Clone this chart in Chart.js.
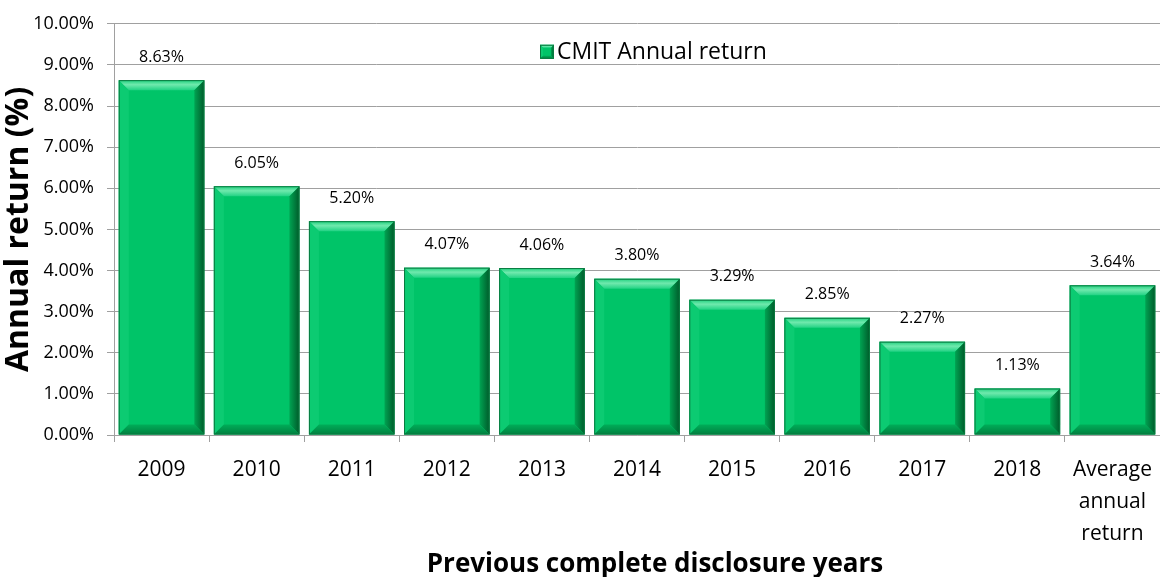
<!DOCTYPE html>
<html>
<head>
<meta charset="utf-8">
<script src="https://cdn.jsdelivr.net/npm/chart.js@4.4.1/dist/chart.umd.min.js"></script>
<style>
  html, body { margin: 0; padding: 0; background: #fff; }
  #wrap { width: 1160px; height: 577px; }
</style>
</head>
<body>
<div id="wrap"><canvas id="c"></canvas></div>
<script>
// datos
const categorias = ['2009', '2010', '2011', '2012', '2013', '2014', '2015', '2016', '2017', '2018', ['Average', 'annual', 'return']];
const rentabilidad = [8.63, 6.05, 5.20, 4.07, 4.06, 3.80, 3.29, 2.85, 2.27, 1.13, 3.64];
const serieNombre = 'CMIT Annual return';
const tituloX = 'Previous complete disclosure years';
const yTicks = [0, 1, 2, 3, 4, 5, 6, 7, 8, 9, 10];

const FONT = '"Open Sans", "DejaVu Sans", sans-serif';
const VERDE = '#00c468';

// bisel tipo Excel sobre un rectángulo
function dibujarBisel(ctx, x0, y0, x1, y1, b) {
  const poly = (pts, fill) => {
    ctx.beginPath();
    ctx.moveTo(pts[0][0], pts[0][1]);
    for (let i = 1; i < pts.length; i++) ctx.lineTo(pts[i][0], pts[i][1]);
    ctx.closePath();
    ctx.fillStyle = fill;
    ctx.fill();
  };
  // arriba
  let g = ctx.createLinearGradient(0, y0, 0, y0 + b);
  g.addColorStop(0, '#1fd07e'); g.addColorStop(0.45, '#6fe9ad'); g.addColorStop(1, '#22d284');
  poly([[x0, y0], [x1, y0], [x1 - b, y0 + b], [x0 + b, y0 + b]], g);
  // izquierda
  poly([[x0, y0], [x0 + b, y0 + b], [x0 + b, y1 - b], [x0, y1]], '#0ccb72');
  // derecha
  g = ctx.createLinearGradient(x1 - b, 0, x1, 0);
  g.addColorStop(0, '#00a352'); g.addColorStop(1, '#005a2a');
  poly([[x1, y0], [x1, y1], [x1 - b, y1 - b], [x1 - b, y0 + b]], g);
  // abajo
  g = ctx.createLinearGradient(0, y1 - b, 0, y1);
  g.addColorStop(0, '#00ad58'); g.addColorStop(1, '#008040');
  poly([[x0, y1], [x0 + b, y1 - b], [x1 - b, y1 - b], [x1, y1]], g);
  ctx.strokeStyle = '#0a7a40';
  ctx.lineWidth = 1;
  ctx.strokeRect(x0 + 0.5, y0 + 0.5, x1 - x0 - 1, y1 - y0 - 1);
}

const biselPlugin = {
  id: 'bisel',
  afterDatasetsDraw(chart) {
    const ctx = chart.ctx;
    ctx.save();
    chart.getDatasetMeta(0).data.forEach(bar => {
      const b = Math.min(10, (bar.base - bar.y) / 2);
      dibujarBisel(ctx, bar.x - bar.width / 2, bar.y, bar.x + bar.width / 2, bar.base, b);
    });
    ctx.restore();
  }
};

// etiquetas de valor, leyenda y título del eje X
const etiquetasPlugin = {
  id: 'etiquetas',
  afterDatasetsDraw(chart) {
    const ctx = chart.ctx;
    const meta = chart.getDatasetMeta(0);
    const a = chart.chartArea;
    ctx.save();
    ctx.font = '16px ' + FONT;
    ctx.fillStyle = '#000';
    ctx.textAlign = 'center';
    ctx.textBaseline = 'middle';
    meta.data.forEach((bar, i) => {
      ctx.fillText(rentabilidad[i].toFixed(2) + '%', bar.x, bar.y - 23);
    });
    // leyenda
    const lx = a.left + 426, ly = a.top + 28;
    ctx.fillStyle = VERDE;
    ctx.fillRect(lx, ly - 7, 14, 14);
    dibujarBisel(ctx, lx, ly - 7, lx + 14, ly + 7, 3);
    ctx.font = '23px ' + FONT;
    ctx.fillStyle = '#000';
    ctx.textAlign = 'left';
    ctx.fillText(serieNombre, lx + 17, ly + 1);
    // título X
    ctx.font = 'bold 26px ' + FONT;
    ctx.textAlign = 'center';
    ctx.fillText(tituloX, (a.left + a.right) / 2 + 18, a.bottom + 130);
    ctx.restore();
  }
};

new Chart(document.getElementById('c'), {
  type: 'bar',
  data: {
    labels: categorias,
    datasets: [{
      label: serieNombre,
      data: rentabilidad,
      backgroundColor: VERDE,
      borderWidth: 0,
      barPercentage: 0.9,
      categoryPercentage: 1.0
    }]
  },
  options: {
    responsive: true,
    maintainAspectRatio: false,
    animation: false,
    layout: { padding: { left: 0, right: 0, top: 22, bottom: 0 } },
    plugins: {
      tooltip: { enabled: false },
      legend: { display: false }
    },
    scales: {
      x: {
        grid: { display: true, drawOnChartArea: false, offset: true, tickLength: 7, color: '#a0a0a0' },
        border: { color: '#a0a0a0' },
        ticks: { font: { family: FONT, size: 21, lineHeight: 1.52 }, color: '#000', padding: 12, maxRotation: 0 },
        afterFit(scale) {
          scale.height = 142;
          scale.paddingLeft = 0;
          scale.paddingRight = 0;
        }
      },
      y: {
        min: 0,
        max: 10,
        afterBuildTicks(scale) { scale.ticks = yTicks.map(v => ({ value: v })); },
        grid: { color: '#a0a0a0', tickLength: 7 },
        border: { color: '#a0a0a0' },
        ticks: { font: { family: FONT, size: 18 }, color: '#000', padding: 13, callback: v => v.toFixed(2) + '%' },
        title: { display: true, text: 'Annual return (%)', font: { family: FONT, size: 32, weight: 'bold' }, color: '#000', padding: { top: 0, bottom: 0 } },
        afterFit(scale) { scale.width = 114; }
      }
    }
  },
  plugins: [biselPlugin, etiquetasPlugin]
});
</script>
</body>
</html>
